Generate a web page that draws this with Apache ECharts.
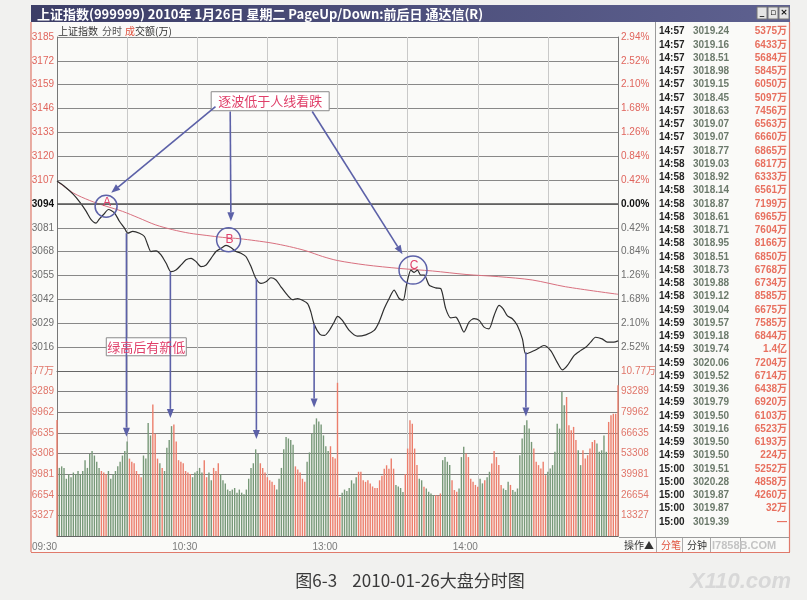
<!DOCTYPE html>
<html><head><meta charset="utf-8">
<script src="https://cdn.jsdelivr.net/npm/echarts@6/dist/echarts.min.js"></script>
<style>html,body{margin:0;padding:0;background:#f1f1ef}#c{width:807px;height:600px}</style>
</head><body><div id="c"></div>
<script>
// ---------------- data ----------------
const prevClose = 3094;
const priceMin = 3003, priceMax = 3185, priceStep = 13;
const volMax = 106616, volStep = 13327;
const volTopLabel = '10.77万';
const timeLabels = ['09:30', '', '10:30', '', '13:00', '', '14:00', '', ''];

// price line [minute, price]
const pricePts = [[0,3106.5],[3,3103.8],[7,3099.2],[10,3094.6],[12.5,3090],[14.6,3085.5],[16.7,3083.6],[18,3085.6],[20,3088.4],[22,3091],[24.6,3089.1],[26.7,3084.6],[28.8,3081],[30.3,3078.1],[32.4,3079.1],[35.3,3078.1],[37.4,3076.3],[38.8,3071.8],[40.2,3068.1],[42.4,3068.5],[44.5,3066.3],[46.7,3061.7],[48.8,3057.1],[50.9,3058],[53.1,3060.8],[55.2,3063.6],[57.4,3064.4],[59.5,3062.6],[61.6,3059.9],[63.8,3060.8],[65.9,3064.4],[68,3068.1],[70.2,3069.9],[72.3,3071.4],[74.4,3070.3],[76.6,3068.1],[78.7,3067.2],[80.8,3065.4],[83,3059.9],[85.1,3053.4],[87.3,3050.7],[89.4,3051.6],[91.5,3053.8],[93.7,3052.6],[95.8,3048.9],[98.6,3044.3],[100.8,3041.9],[102.9,3042.5],[105,3041.6],[107.2,3039.7],[108.6,3035.2],[110,3028.5],[112.5,3023],[114.5,3022.4],[116.5,3025.1],[118.6,3029.7],[120,3032.8],[122.1,3030.6],[125,3025.1],[128.5,3022],[132.1,3022.7],[135.7,3025.1],[137.8,3029.7],[140,3037],[142.1,3042.5],[144.2,3047.1],[146.4,3042.5],[148.1,3041.6],[149.5,3049.8],[151.4,3058],[152.8,3056.7],[154.2,3058],[155.6,3055.3],[157.1,3055.3],[159.2,3049.8],[162,3048.3],[164.2,3047.9],[166.3,3037],[168.5,3031.9],[170.6,3032.4],[172,3029.7],[174.1,3024.2],[176.3,3029.7],[178.4,3031.5],[180.6,3030.6],[182.7,3026.9],[184.8,3026],[187,3033.3],[189.1,3038.8],[190.8,3037],[192.7,3033],[194.8,3031.5],[196.9,3027.9],[199.1,3020.5],[200.5,3012.3],[202.6,3013.2],[205.5,3015],[208.3,3016.9],[211.2,3014.1],[214,3007.7],[216.2,3003.6],[218.3,3005.9],[221.2,3011.4],[224,3014.1],[226.2,3015.9],[228.3,3018.7],[230.4,3021.4],[233.2,3020.5],[235.4,3018.7],[238.2,3018.7],[240,3019.4]];

// average price line [minute, price]
const avgPts = [[0,3106.5],[7,3100],[14,3095.9],[21,3092.8],[28,3090],[35,3086.4],[42,3082.7],[49.5,3080],[56.6,3078.1],[63.8,3076.9],[70.9,3075.8],[78,3075.1],[85,3074],[92,3072.7],[99.4,3070.8],[106.5,3068.5],[113.6,3065.4],[120,3063.2],[132,3060.8],[146.4,3058.9],[160.6,3057.5],[175,3055.6],[189,3054.4],[203.3,3052.6],[217.6,3048.9],[240,3044.8]];

// volume per minute (0..240)
const volumes = [
75000,44000,45000,44000,37000,40000,38000,41000,40000,42000,
40000,42000,49000,44000,53000,55000,52000,48000,44000,42000,
41000,40000,42000,37000,40000,42000,45000,48000,52000,55000,
61000,50000,48000,47000,42000,40000,38000,52000,50000,73000,
65000,85000,66000,50000,47000,44000,42000,57000,62000,71000,
72000,61000,49000,48000,47000,42000,41000,40000,38000,41000,
42000,44000,41000,49000,38000,41000,36000,44000,42000,47000,
40000,36000,34000,30000,29000,30000,31000,28000,30000,28000,
27000,30000,37000,44000,47000,56000,53000,47000,44000,41000,
38000,36000,35000,33000,30000,37000,44000,56000,64000,63000,
62000,59000,45000,43000,41000,37000,35000,48000,54000,66000,
72000,76000,74000,72000,65000,58000,55000,58000,51000,50000,
99000,25000,28000,30000,29000,31000,36000,34000,38000,41500,
41500,36000,35000,36000,34000,32000,31000,31000,36000,39000,
43500,45700,43500,50000,43500,33000,32000,31000,28500,40000,
56500,74800,72600,56500,45800,37000,36000,31800,30700,28600,
27500,26400,26400,26000,27500,49000,51000,48000,45800,36000,
29700,28600,30700,51000,57600,53300,51000,37000,35000,33000,
31800,37000,34000,36000,38000,41500,46900,55000,51000,45800,
33000,30700,29700,35000,33000,29700,28600,30700,52200,63000,
71600,74800,69400,60800,56500,48000,45800,43600,48000,39300,
41500,43600,45800,54400,72600,69400,93000,84500,89800,71600,
68300,70500,62000,55400,45800,55400,50000,52200,56500,60800,
62000,59700,54400,55400,65000,54400,73700,78000,79000,79000,
97400];
// bar colour per minute: r = up, g = down
const volDir = [
'rggggggggg','gggggggggr','rrgggggggg','grrrrrrggg',
'grrrgrgggg','rrrrrrrrgg','gggrrggrrr','gggggggggg',
'gggggggrrr','rrrrgggggg','ggrrrrrggg','gggggggrrr',
'rrgggggggr','rrrrrrrrrr','rrrrrggggr','rrrrrggrgg',
'ggrrrggggr','rrgggrrrrr','rggrggrrrr','rgggrggggg',
'ggggrrrrrr','ggggggggrr','rrrggrrrrr','rgggggrrrr','r'].join('');

// time & sales table
const tableTimes = ['14:57','14:57','14:57','14:57','14:57','14:57','14:57','14:57','14:57','14:57','14:58','14:58','14:58','14:58','14:58','14:58','14:58','14:58','14:58','14:58','14:58','14:59','14:59','14:59','14:59','14:59','14:59','14:59','14:59','14:59','14:59','14:59','14:59','15:00','15:00','15:00','15:00','15:00'];
const tablePrices = ['3019.24','3019.16','3018.51','3018.98','3019.15','3018.45','3018.63','3019.07','3019.07','3018.77','3019.03','3018.92','3018.14','3018.87','3018.61','3018.71','3018.95','3018.51','3018.73','3019.88','3019.12','3019.04','3019.57','3019.18','3019.74','3020.06','3019.52','3019.36','3019.79','3019.50','3019.16','3019.50','3019.50','3019.51','3020.28','3019.87','3019.87','3019.39'];
const tableAmounts = ['5375万','6433万','5684万','5845万','6050万','5097万','7456万','6563万','6660万','6865万','6817万','6333万','6561万','7199万','6965万','7604万','8166万','6850万','6768万','6734万','8585万','6675万','7585万','6844万','1.4亿','7204万','6714万','6438万','6920万','6103万','6523万','6193万','224万','5252万','4858万','4260万','32万','—'];

// annotations (data coordinates: minute, price / volume)
const circleMarks = [{t:'A', m:21, p:3092.8}, {t:'B', m:73.4, p:3074.5}, {t:'C', m:152.3, p:3058}];
const noteTop = {text:'逐波低于人线看跌', m:91.2, p:3150};
const noteTopArrows = [[67.8,3147.1,23.2,3100.1],[74.1,3144.4,74.4,3084.6],[109.2,3144.4,147.8,3066.6]];
const noteLow = {text:'绿高后有新低', m:38.2, p:3016.2};
const dropLines = [[29.7,3078.1,64200],[48.5,3057.1,76300],[85.3,3053.3,62750],[110,3028.6,83000],[200.6,3013.2,77200]];

// ---------------- chart ----------------
const RED = '#ec7e6c', GREEN = '#779878';
const FONT = '"Liberation Sans", Arial, "Noto Sans CJK SC", sans-serif';
const chart = echarts.init(document.getElementById('c'));

const priceRich = {u:{color:'#e0655d',fontSize:10}, z:{color:'#111',fontSize:10,fontWeight:'bold'}, d:{color:'#6e6e6e',fontSize:10}};
function priceFmt(v){ if (v === priceMin) return ''; const k = v > prevClose ? 'u' : (v === prevClose ? 'z' : 'd'); return '{' + k + '|' + v + '}'; }
function pctFmt(v){ if (v === priceMin) return ''; const k = v > prevClose ? 'u' : (v === prevClose ? 'z' : 'd'); return '{' + k + '|' + Math.abs((v - prevClose) / prevClose * 100).toFixed(2) + '%}'; }
function volFmt(v){ if (v === 0) return ''; if (v === volMax) return volTopLabel; return String(v); }

const xBase = {type:'value', min:0, max:240, interval:30, axisTick:{show:false},
  axisLine:{show:true, lineStyle:{color:'#666'}}, splitLine:{show:true, lineStyle:{color:'#c9c9c9'}}};

chart.setOption({
  animation:false,
  backgroundColor:'#fafaf8',
  textStyle:{fontFamily:FONT},
  grid:[{left:57, top:37, width:561, height:334}, {left:57, top:371, width:561, height:165}],
  xAxis:[
    Object.assign({gridIndex:0, axisLabel:{show:false}}, xBase),
    Object.assign({gridIndex:1, axisLabel:{show:true, fontSize:10, color:'#7a7a7a', align:'right', margin:6,
      formatter:v => timeLabels[Math.round(v / 30)] || ''}}, xBase)
  ],
  yAxis:[
    {gridIndex:0, type:'value', min:priceMin, max:priceMax, interval:priceStep, position:'left',
     axisLine:{show:true, lineStyle:{color:'#777'}}, axisTick:{show:false},
     axisLabel:{formatter:priceFmt, rich:priceRich, margin:3}, splitLine:{show:true, lineStyle:{color:'#888'}}},
    {gridIndex:0, type:'value', min:priceMin, max:priceMax, interval:priceStep, position:'right',
     axisLine:{show:true, lineStyle:{color:'#777'}}, axisTick:{show:false},
     axisLabel:{formatter:pctFmt, rich:priceRich, margin:3}, splitLine:{show:false}},
    {gridIndex:1, type:'value', min:0, max:volMax, interval:volStep, position:'left',
     axisLine:{show:true, lineStyle:{color:'#777'}}, axisTick:{show:false},
     axisLabel:{formatter:volFmt, color:'#e0766a', fontSize:10, margin:3}, splitLine:{show:true, lineStyle:{color:'#808080'}}},
    {gridIndex:1, type:'value', min:0, max:volMax, interval:volStep, position:'right',
     axisLine:{show:true, lineStyle:{color:'#777'}}, axisTick:{show:false},
     axisLabel:{formatter:volFmt, color:'#e0766a', fontSize:10, margin:3}, splitLine:{show:false}}
  ],
  series:[
    {type:'line', xAxisIndex:0, yAxisIndex:0, data:avgPts, showSymbol:false, smooth:0.3,
     lineStyle:{color:'#d9707f', width:1}, z:3},
    {type:'line', xAxisIndex:0, yAxisIndex:0, data:pricePts, showSymbol:false, smooth:0.25,
     lineStyle:{color:'#2e2e2e', width:1.2}, z:4,
     markLine:{silent:true, symbol:'none', label:{show:false}, lineStyle:{color:'#555', width:1.5, type:'solid'}, data:[{yAxis:prevClose}]}},
    {type:'bar', xAxisIndex:1, yAxisIndex:2, barWidth:1.4,
     data:volumes.map((v, i) => ({value:[i, v], itemStyle:{color: volDir[i] === 'r' ? RED : GREEN}}))}
  ]
});

// ---------------- graphics ----------------
const pp = (m, p) => chart.convertToPixel({gridIndex:0}, [m, p]);
const pv = (m, v) => chart.convertToPixel({gridIndex:1}, [m, v]);
const G = [];
const ANN = '#5c61a8', NOTE = '#e0406a';
function txt(x, y, text, fill, font, align, z){ G.push({type:'text', x:x, y:y, z:z||60, silent:true,
  style:{text:text, fill:fill, font:font, textAlign:align||'left', textVerticalAlign:'middle', verticalAlign:'middle'}}); }
function rect(x, y, w, h, fill, stroke, z){ G.push({type:'rect', z:z||50, silent:true, shape:{x:x, y:y, width:w, height:h},
  style:{fill:fill||'none', stroke:stroke||'none', lineWidth:1}}); }
function line(x1, y1, x2, y2, color, w, z){ G.push({type:'line', z:z||55, silent:true, shape:{x1:x1, y1:y1, x2:x2, y2:y2},
  style:{stroke:color, lineWidth:w||1}}); }
function arrow(a, b){
  const dx = b[0] - a[0], dy = b[1] - a[1], L = Math.hypot(dx, dy), ux = dx / L, uy = dy / L;
  const hl = 9, hw = 3.5, bx = b[0] - ux * hl, by = b[1] - uy * hl;
  line(a[0], a[1], bx, by, ANN, 1.6, 70);
  G.push({type:'polygon', z:70, silent:true, shape:{points:[[b[0], b[1]], [bx - uy * hw, by + ux * hw], [bx + uy * hw, by - ux * hw]]},
    style:{fill:ANN}});
}

// outside of the window
rect(0, 0, 807, 5, '#f1f1ef', null, 50);
rect(0, 0, 31, 600, '#f1f1ef', null, 50);
rect(0, 553, 807, 47, '#f1f1ef', null, 50);
rect(790, 0, 17, 600, '#f1f1ef', null, 50);
// title bar
G.push({type:'rect', z:52, silent:true, shape:{x:31, y:5, width:759, height:17},
  style:{fill:{type:'linear', x:0, y:0, x2:1, y2:0, colorStops:[{offset:0, color:'#3c3e67'}, {offset:1, color:'#5e6190'}]}}});
txt(37, 14, '上证指数(999999) 2010年 1月26日 星期二 PageUp/Down:前后日 通达信(R)', '#ffffff', 'bold 13px "Noto Sans CJK SC"', 'left', 60);
['_', '▫', '×'].forEach((s, i) => { rect(757 + i * 11, 7, 10, 12, '#e4e4e4', '#777', 56); txt(762 + i * 11, 13, s, '#111', 'bold 9px "DejaVu Sans"', 'center', 60); });
// window borders
line(31, 22, 31, 552, '#e07a6b', 1.2, 56);
line(31, 552.5, 790, 552.5, '#e07a6b', 1.2, 56);
line(789.5, 22, 789.5, 552, '#e07a6b', 1.2, 56);
line(655.5, 22, 655.5, 537, '#9a9a9a', 1, 56);
// subtitle
txt(58, 31, '上证指数', '#333', '10px "Noto Sans CJK SC"');
txt(102, 31, '分时', '#555', '10px "Noto Sans CJK SC"');
txt(125, 31, '成', '#e0503c', '10px "Noto Sans CJK SC"');
txt(135, 31, '交额(万)', '#333', '10px "Noto Sans CJK SC"');
// table
tableTimes.forEach((t, i) => {
  const y = 31.5 + i * 13.25;
  txt(659, y, t, '#222', 'bold 10px "Liberation Sans"');
  txt(693, y, tablePrices[i], '#6c7a6c', 'bold 10px "Liberation Sans"');
  txt(787, y, tableAmounts[i], '#e8705f', 'bold 10px "Liberation Sans", "Noto Sans CJK SC"', 'right');
});
// bottom tabs
line(619, 537.5, 789, 537.5, '#9a9a9a', 1, 56);
txt(624, 545, '操作▲', '#333', '10px "Noto Sans CJK SC"');
[656, 682, 710, 740].forEach(x => line(x + 0.5, 538, x + 0.5, 552, '#aaa', 1, 56));
txt(661, 545, '分笔', '#e0503c', '10px "Noto Sans CJK SC"');
txt(687, 545, '分钟', '#333', '10px "Noto Sans CJK SC"');
txt(712, 546, 'I7858B.COM', '#c4c4c4', 'bold 11px "Liberation Sans"', 'left', 62);
// caption & watermark
txt(410, 581, '图6-3    2010-01-26大盘分时图', '#3a3a3a', '17px "Noto Sans CJK SC"', 'center');
txt(690, 582, 'X110.com', '#d8d8d8', 'italic bold 22px "Liberation Sans"', 'left', 51);

// annotations
circleMarks.forEach((c, i) => {
  const p = pp(c.m, c.p), r = [11, 12, 14][i];
  G.push({type:'circle', z:70, silent:true, shape:{cx:p[0], cy:p[1], r:r}, style:{fill:'none', stroke:ANN, lineWidth:1.5}});
  txt(p[0] + 1, p[1] - (i === 1 ? 0 : 4), c.t, NOTE, '12px "Liberation Sans"', 'center', 71);
});
const nt = pp(noteTop.m, noteTop.p);
rect(nt[0] - 59, nt[1] - 9.5, 118, 19, '#ffffff', '#8a8a8a', 68);
txt(nt[0], nt[1], noteTop.text, NOTE, '13px "Noto Sans CJK SC"', 'center', 71);
noteTopArrows.forEach(a => arrow(pp(a[0], a[1]), pp(a[2], a[3])));
const nl = pp(noteLow.m, noteLow.p);
rect(nl[0] - 40, nl[1] - 9, 80, 18, '#ffffff', '#8a8a8a', 68);
txt(nl[0], nl[1], noteLow.text, NOTE, '13px "Noto Sans CJK SC"', 'center', 71);
dropLines.forEach(d => arrow(pp(d[0], d[1]), pv(d[0], d[2])));

chart.setOption({graphic:{elements:G}});
</script></body></html>
